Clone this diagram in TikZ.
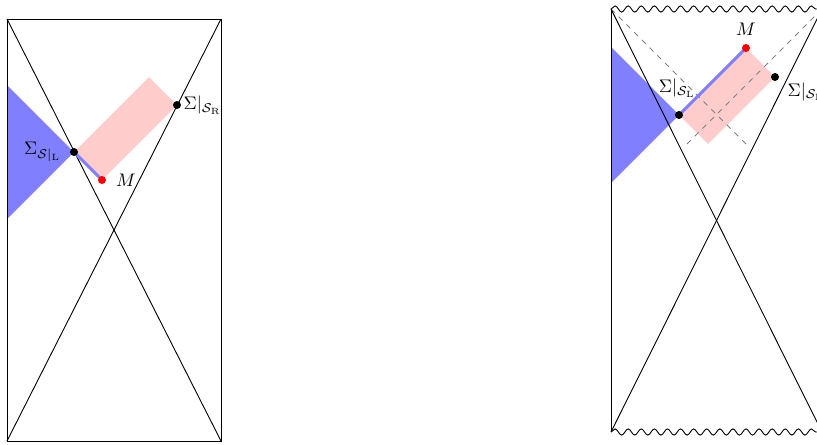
\documentclass[tikz,border=0pt]{standalone}
\usepackage{amsmath,amssymb}
\usetikzlibrary{positioning}
\usetikzlibrary{decorations.pathmorphing}
\begin{document}
\begin{tikzpicture}[x=0.55pt, y=-0.55pt, line width=0.5pt,
    dot/.style = {circle, fill=black, inner sep=0pt, minimum size=4.4pt},
    mdot/.style = {dot, fill=red},
    lab/.style = {inner sep=1pt},
    wedge/.style = {fill=blue!50},
    strip/.style = {fill=red!20},
    bound/.style = {line width=1.6pt, blue!50},
    wavy/.style = {decorate, decoration={snake, amplitude=1.7pt, segment length=7.2pt}},
    nullray/.style = {gray, dashed}]
    \useasboundingbox (0,0) rectangle (817,444);
    % left diagram
    \coordinate (a1) at (7,19);
    \coordinate (a2) at (221,19);
    \coordinate (a3) at (221,441);
    \coordinate (a4) at (7,441);
    \coordinate (sl) at (74,152);
    \coordinate (sr) at (177,105);
    \coordinate (m) at (102,180);
    \fill[wedge] (7,85) -- (sl) -- (7,219) -- cycle;
    \fill[strip] (sl) -- (149,77) -- (sr) -- (m) -- cycle;
    \draw (a1) rectangle (a3);
    \draw (a1) -- (a3);
    \draw (a2) -- (a4);
    \draw[bound] (sl) -- (m);
    \node[dot] (SL) at (sl) {};
    \node[dot] (SR) at (sr) {};
    \node[mdot] (M) at (m) {};
    \node[lab] (tSL) [left=3.5pt of SL] {$\Sigma_{\mathcal{S}|_{\rm L}}$};
    \node[lab] (tSR) [right=0pt of SR] {$\Sigma|_{\mathcal{S}_{\rm R}}$};
    \node[lab] (tM) [right=4pt of M] {$M$};
    % right diagram
    \coordinate (b1) at (611,9);
    \coordinate (b2) at (822,9);
    \coordinate (b3) at (822,432);
    \coordinate (b4) at (611,432);
    \coordinate (sl2) at (679,115);
    \coordinate (sr2) at (775,77);
    \coordinate (m2) at (746,48);
    \fill[wedge] (611,47) -- (sl2) -- (611,183) -- cycle;
    \fill[strip] (sl2) -- (m2) -- (sr2) -- (708,144) -- cycle;
    \draw[nullray] (b1) -- (748,146);
    \draw[nullray] (b2) -- (685,146);
    \draw (b1) -- (b4);
    \draw (b2) -- (b3);
    \draw (b1) -- (b3);
    \draw (b2) -- (b4);
    \draw[wavy] (b1) -- (b2);
    \draw[wavy] (b4) -- (b3);
    \draw[bound] (sl2) -- (m2);
    \node[dot] (SL2) at (sl2) {};
    \node[dot] (SR2) at (sr2) {};
    \node[mdot] (M2) at (m2) {};
    \node[lab] (tSL2) [above=6pt of SL2, xshift=-1pt] {$\Sigma|_{\mathcal{S}_{\rm L}}$};
    \node[lab] (tSR2) [below right=0pt and 4pt of SR2] {$\Sigma|_{\mathcal{S}_{\rm R}}$};
    \node[lab] (tM2) [above=3pt of M2] {$M$};
\end{tikzpicture}
\end{document}
